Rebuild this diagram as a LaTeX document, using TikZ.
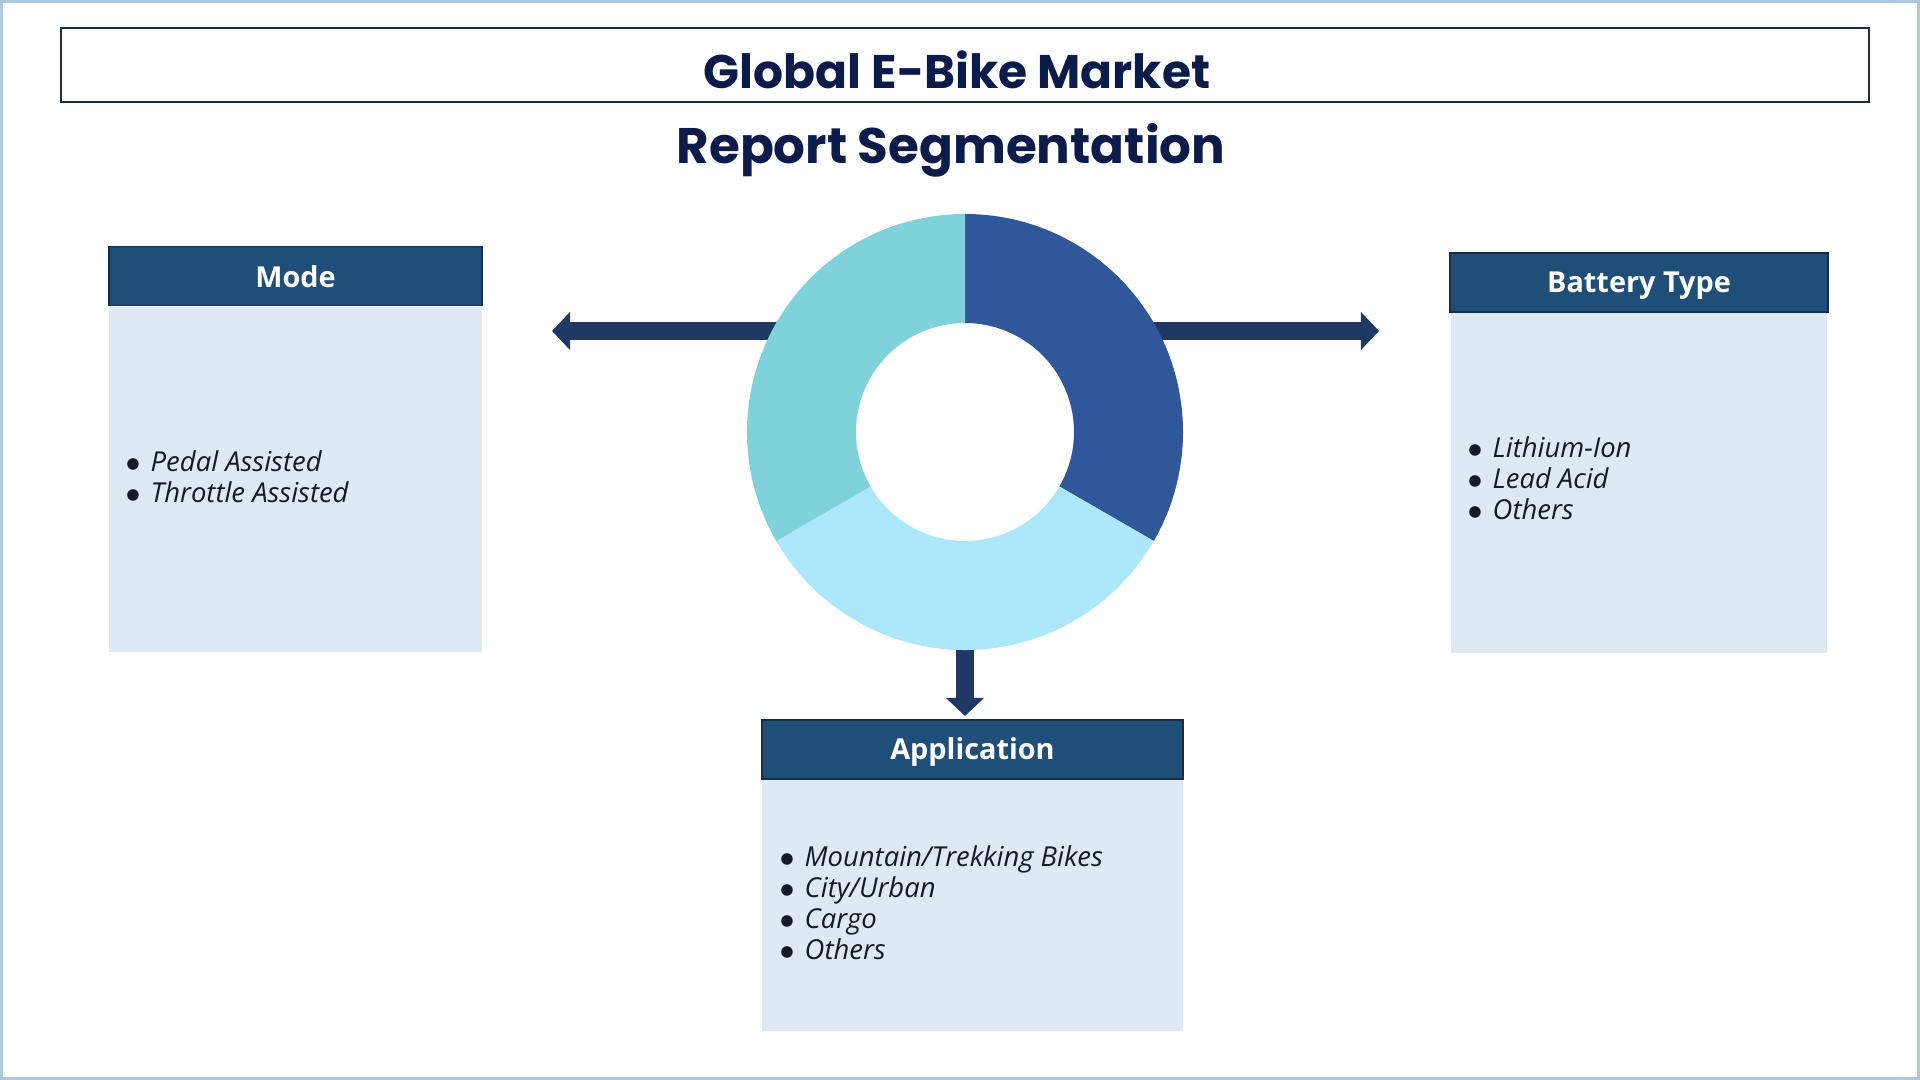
\documentclass[tikz,border=0pt]{standalone}
\usepackage{fontspec}
\usepackage{tikz}
\usepackage{xcolor}
\usetikzlibrary{calc,positioning,arrows.meta}

\newfontfamily\titlefont{Poppins}
\newfontfamily\headfont{Open Sans}
\newfontfamily\itemfont{Open Sans}

\definecolor{framecol}{HTML}{AEC8DE}
\definecolor{titlecol}{HTML}{0C1C4A}
\definecolor{hdfill}{HTML}{1F4E79}
\definecolor{hdline}{HTML}{1B2D45}
\definecolor{bdfill}{HTML}{DEE9F5}
\definecolor{arrowcol}{HTML}{1F3864}
\definecolor{segdark}{HTML}{30579A}
\definecolor{seglight}{HTML}{ADE7FB}
\definecolor{segteal}{HTML}{7FD2DA}
\definecolor{itemcol}{HTML}{141A26}

\newcommand{\dotitem}[1]{\makebox[0.25cm][l]{$\bullet$}#1}

\tikzset{
  head/.style={draw=hdline,line width=0.015cm,fill=hdfill,text=white,
    font=\headfont\bfseries\fontsize{8.2}{10}\selectfont,inner sep=0pt,
    minimum height=0.59cm,text height=0.2cm,text depth=0pt},
  body/.style={fill=bdfill,inner sep=0pt,anchor=north},
  item/.style={anchor=base west,inner sep=0pt,text=itemcol,
    font=\itemfont\itshape\fontsize{7.8}{9}\selectfont},
  link/.style={draw=arrowcol,line width=0.18cm,-{Triangle[length=0.18cm,width=0.37cm]}},
}

\begin{document}
\begin{tikzpicture}[x=0.01cm,y=-0.01cm]
    \useasboundingbox (0,0) rectangle (1920,1080);
    \draw[framecol,line width=0.03cm] (1.5,1.5) rectangle (1918.5,1078.5);

    % title
    \draw[hdline,line width=0.018cm] (61,28) rectangle (1869,102);
    \node[text=titlecol,font=\titlefont\bfseries\fontsize{13.4}{16}\selectfont] (title) at (957,70) {Global E-Bike Market};
    \node[text=titlecol,font=\titlefont\bfseries\fontsize{14.2}{17}\selectfont] (subtitle) at (951,150) {Report Segmentation};

    % arrows start inside the ring band
    \coordinate (ctr) at (965,432);
    \coordinate (ls) at (815,331);
    \coordinate (lt) at (552,331);
    \coordinate (rs) at (1115,331);
    \coordinate (rt) at (1379,331);
    \coordinate (ds) at (965,600);
    \coordinate (dt) at (965,716);
    \draw[link] (ls) -- (lt);
    \draw[link] (rs) -- (rt);
    \draw[link] (ds) -- (dt);

    % ring
    \fill[segdark] ($(ctr)+(-90:218)$) arc[start angle=-90,end angle=30,radius=218]
        -- ($(ctr)+(30:109)$) arc[start angle=30,end angle=-90,radius=109] -- cycle;
    \fill[seglight] ($(ctr)+(30:218)$) arc[start angle=30,end angle=150,radius=218]
        -- ($(ctr)+(150:109)$) arc[start angle=150,end angle=30,radius=109] -- cycle;
    \fill[segteal] ($(ctr)+(150:218)$) arc[start angle=150,end angle=270,radius=218]
        -- ($(ctr)+(270:109)$) arc[start angle=270,end angle=150,radius=109] -- cycle;

    % segment boxes
    \node[head,minimum width=3.73cm,text height=0.24cm] (modehead) at (295.5,276) {Mode};
    \node[body,minimum width=3.73cm,minimum height=3.45cm,below=0pt of modehead] (modebody) {};
    \node[head,minimum width=3.78cm] (batthead) at (1639,282.5) {Battery Type};
    \node[body,minimum width=3.76cm,minimum height=3.39cm,below=0pt of batthead] (battbody) {};
    \node[head,minimum width=4.21cm] (apphead) at (972.5,749.5) {Application};
    \node[body,minimum width=4.21cm,minimum height=2.5cm,below=0pt of apphead] (appbody) {};

    \foreach \t [count=\i] in {Pedal Assisted,Throttle Assisted}
        \node[item] (mode\i) at (125,472+31*\i-31) {\dotitem{\t}};
    \foreach \t [count=\i] in {Lithium-Ion,Lead Acid,Others}
        \node[item] (batt\i) at (1467,458+31*\i-31) {\dotitem{\t}};
    \foreach \t [count=\i] in {Mountain/Trekking Bikes,City/Urban,Cargo,Others}
        \node[item] (app\i) at (779,867+31*\i-31) {\dotitem{\t}};

\end{tikzpicture}
\end{document}
